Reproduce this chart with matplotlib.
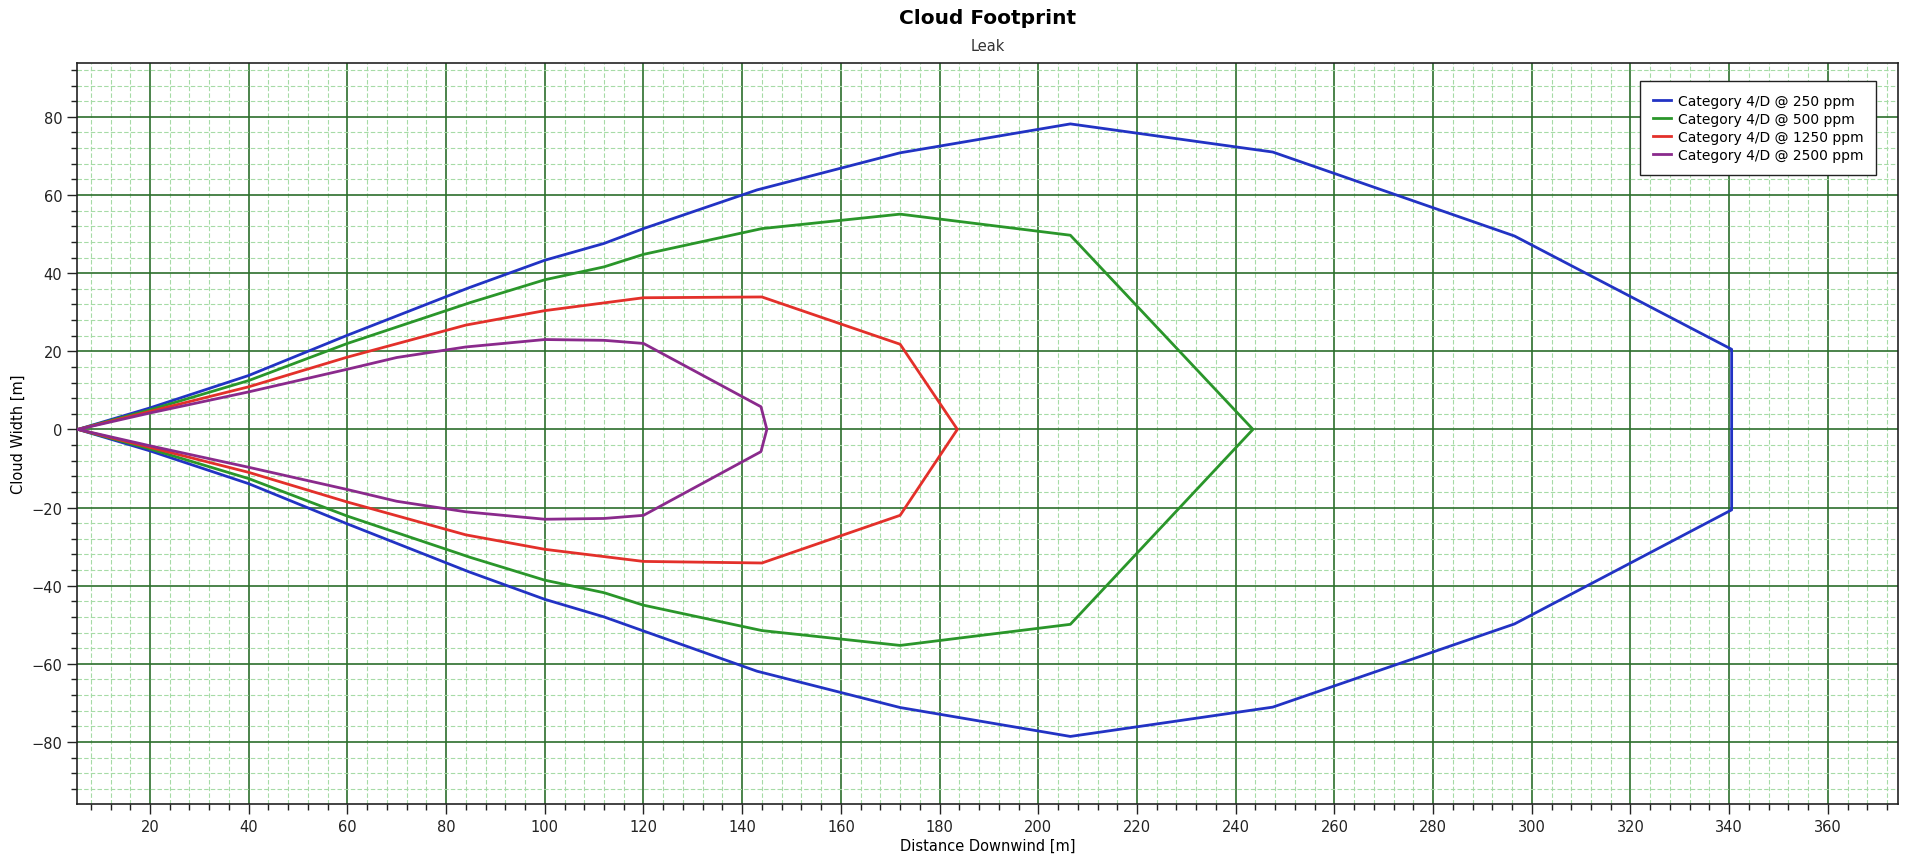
import matplotlib.pyplot as plt
from matplotlib.ticker import MultipleLocator

# contour points, going out along the upper edge and back along the lower edge
x_250 = [5.4, 20, 40, 60, 84.5, 100, 112, 120, 143, 172, 206.5, 247.5, 296.5, 340.5,
         340.5, 296.5, 247.5, 206.5, 172, 143, 120, 112, 100, 84.5, 60, 40, 20, 5.4]
y_250 = [0, 5.5, 13.8, 24.1, 36.2, 43.3, 47.6, 51.4, 61.3, 70.8, 78.2, 71.0, 49.5, 20.5,
         -20.6, -49.8, -71.1, -78.6, -71.2, -61.9, -51.6, -48.0, -43.5, -36.4, -24.2, -13.9, -5.5, 0]

x_500 = [5.4, 20, 40, 60, 85, 100, 112, 120, 144, 172, 206.5, 243.5,
         206.5, 172, 144, 120, 112, 100, 85, 60, 40, 20, 5.4]
y_500 = [0, 5.0, 12.5, 22.0, 32.5, 38.3, 41.6, 44.8, 51.4, 55.1, 49.7, 0,
         -49.9, -55.3, -51.5, -45.0, -41.8, -38.6, -32.8, -22.2, -12.6, -5.0, 0]

x_1250 = [5.4, 20, 40, 60, 84, 100, 120, 144, 172, 183.6,
          172, 144, 120, 100, 84, 60, 40, 20, 5.4]
y_1250 = [0, 4.6, 10.9, 18.5, 26.7, 30.4, 33.7, 33.9, 21.8, 0,
          -22.0, -34.2, -33.8, -30.7, -27.0, -18.6, -11.0, -4.6, 0]

x_2500 = [5.4, 20, 40, 60, 70, 84, 100, 112, 120, 143.8, 145,
          143.8, 120, 112, 100, 84, 70, 60, 40, 20, 5.4]
y_2500 = [0, 4.2, 9.6, 15.4, 18.4, 21.1, 23.0, 22.8, 22.0, 5.8, 0,
          -5.7, -22.0, -22.8, -23.0, -21.1, -18.4, -15.4, -9.7, -4.2, 0]

labels = ['Category 4/D @ 250 ppm', 'Category 4/D @ 500 ppm',
          'Category 4/D @ 1250 ppm', 'Category 4/D @ 2500 ppm']
colors = ['#2233c4', '#2a962a', '#e3302a', '#8a2a8c']

fig = plt.figure(figsize=(19.05, 8.62), dpi=100)
ax = fig.add_axes([0.0404, 0.0661, 0.9559, 0.8597])

series = [(x_250, y_250), (x_500, y_500), (x_1250, y_1250), (x_2500, y_2500)]
for (xs, ys), lab, c in zip(series, labels, colors):
    ax.plot(xs, ys, color=c, lw=2.0, label=lab, zorder=3)

ax.set_xlim(5.2, 374.2)
ax.set_ylim(-95.9, 93.8)
ax.xaxis.set_major_locator(MultipleLocator(20))
ax.xaxis.set_minor_locator(MultipleLocator(4))
ax.yaxis.set_major_locator(MultipleLocator(20))
ax.yaxis.set_minor_locator(MultipleLocator(4))

ax.grid(which='minor', color='#a6dba6', lw=0.8, ls=(0, (4, 2)))
ax.grid(which='major', color='#2c6e2c', lw=1.2, ls='-')
ax.set_axisbelow(True)

ax.tick_params(which='major', length=7, width=1, labelsize=10.5, colors='#222222')
ax.tick_params(which='minor', length=4, width=1, colors='#222222')
for sp in ax.spines.values():
    sp.set_color('#222222')
    sp.set_linewidth(1.2)

ax.set_xlabel('Distance Downwind [m]', fontsize=10.5, labelpad=3)
ax.set_ylabel('Cloud Width [m]', fontsize=10.5, labelpad=4)

fig.text(0.5183, 0.978, 'Cloud Footprint', ha='center', va='center',
         fontsize=14.5, fontweight='bold')
fig.text(0.5183, 0.946, 'Leak', ha='center', va='center', fontsize=10.5, color='#333333')

leg = ax.legend(loc='upper right', bbox_to_anchor=(0.9918, 0.985), fontsize=10,
                fancybox=False, framealpha=1, edgecolor='#222222',
                handlelength=1.3, handletextpad=0.5, borderpad=0.9, labelspacing=0.3)
leg.get_frame().set_linewidth(1.0)

fig.savefig('out.png', dpi=100)
